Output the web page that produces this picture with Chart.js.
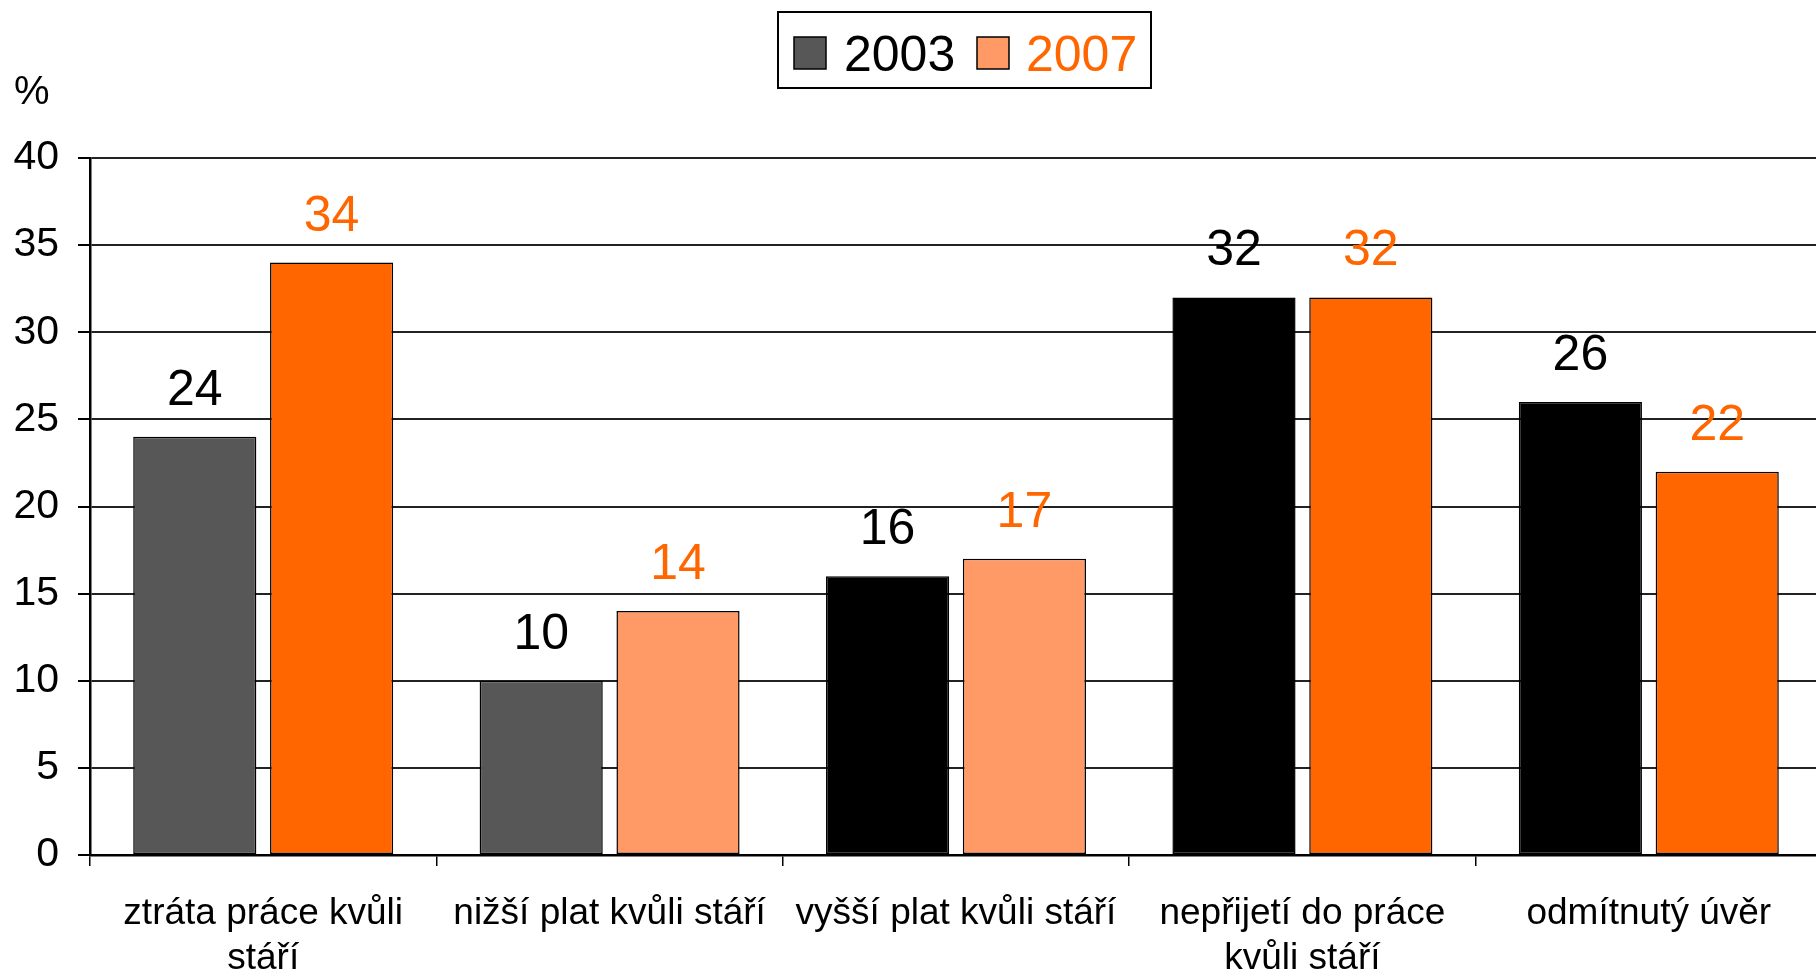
<!DOCTYPE html>
<html>
<head>
<meta charset="utf-8">
<script src="https://cdn.jsdelivr.net/npm/chart.js@4"></script>
<style>
html,body{margin:0;padding:0;background:#fff;overflow:hidden;width:1816px;height:974px;}
canvas{display:block;}
</style>
</head>
<body>
<canvas id="c" width="1822" height="974"></canvas>
<script>
const categories = [
  ["ztráta práce kvůli", "stáří"],
  ["nižší plat kvůli stáří"],
  ["vyšší plat kvůli stáří"],
  ["nepřijetí do práce", "kvůli stáří"],
  ["odmítnutý úvěr"]
];
const seriesNames = ["2003", "2007"];
const values2003 = [24, 10, 16, 32, 26];
const values2007 = [34, 14, 17, 32, 22];
const colors2003 = ["#575757", "#575757", "#000000", "#000000", "#000000"];
const colors2007 = ["#FF6600", "#FF9966", "#FF9966", "#FF6600", "#FF6600"];
const legendColors = ["#575757", "#FF9966"];
const labelColors = ["#000000", "#FF6600"];
const yTicks = [0, 5, 10, 15, 20, 25, 30, 35, 40];

const FONT = "'Liberation Sans', Arial, sans-serif";

const valueLabels = {
  id: 'valueLabels',
  afterDatasetsDraw(chart) {
    const ctx = chart.ctx;
    ctx.save();
    ctx.font = '50px ' + FONT;
    ctx.textAlign = 'center';
    ctx.textBaseline = 'alphabetic';
    chart.data.datasets.forEach((ds, di) => {
      const meta = chart.getDatasetMeta(di);
      ctx.fillStyle = labelColors[di];
      meta.data.forEach((bar, i) => {
        ctx.fillText(String(ds.data[i]), bar.x, bar.y - 32);
      });
    });
    ctx.restore();
  }
};

const legendAndUnit = {
  id: 'legendAndUnit',
  afterDraw(chart) {
    const ctx = chart.ctx;
    ctx.save();
    ctx.font = '40px ' + FONT;
    ctx.fillStyle = '#000';
    ctx.textAlign = 'left';
    ctx.textBaseline = 'alphabetic';
    ctx.fillText('%', 14, 104);
    ctx.lineWidth = 2;
    ctx.strokeStyle = '#000';
    ctx.strokeRect(778, 12, 373, 76);
    const items = [
      {sx: 794, tx: 844},
      {sx: 977, tx: 1026}
    ];
    ctx.font = '50px ' + FONT;
    chart.data.datasets.forEach((ds, di) => {
      const it = items[di];
      ctx.fillStyle = legendColors[di];
      ctx.fillRect(it.sx, 37, 32, 32);
      ctx.lineWidth = 1.5;
      ctx.strokeRect(it.sx, 37, 32, 32);
      ctx.fillStyle = labelColors[di];
      ctx.fillText(ds.label, it.tx, 71);
    });
    ctx.restore();
  }
};

new Chart(document.getElementById('c'), {
  type: 'bar',
  data: {
    labels: categories,
    datasets: [
      {label: seriesNames[0], data: values2003, backgroundColor: colors2003, borderColor: '#000', borderWidth: 1.5, borderSkipped: false},
      {label: seriesNames[1], data: values2007, backgroundColor: colors2007, borderColor: '#000', borderWidth: 1.5, borderSkipped: false}
    ]
  },
  options: {
    responsive: false,
    animation: false,
    devicePixelRatio: 1,
    categoryPercentage: 0.79,
    barPercentage: 0.9,
    layout: {padding: {top: 158, left: 0, right: 0, bottom: 0}},
    plugins: {legend: {display: false}, tooltip: {enabled: false}},
    scales: {
      x: {
        afterFit(s) { s.height = 119; },
        grid: {offset: true, drawOnChartArea: false, drawTicks: true, tickLength: 11, color: '#000', lineWidth: 1.5},
        border: {display: true, color: '#000', width: 2.5},
        ticks: {color: '#000', font: {family: FONT, size: 37, lineHeight: 1.22}, padding: 25, maxRotation: 0, autoSkip: false}
      },
      y: {
        min: 0, max: 40,
        afterFit(s) { s.width = 90; },
        afterBuildTicks(s) { s.ticks = yTicks.map(v => ({value: v})); },
        grid: {color: '#222', lineWidth: 2, drawTicks: true, tickLength: 12, tickColor: '#000', tickWidth: 2},
        border: {display: true, color: '#000', width: 2.5},
        ticks: {color: '#000', font: {family: FONT, size: 41}, padding: 19}
      }
    }
  },
  plugins: [valueLabels, legendAndUnit]
});
</script>
</body>
</html>
